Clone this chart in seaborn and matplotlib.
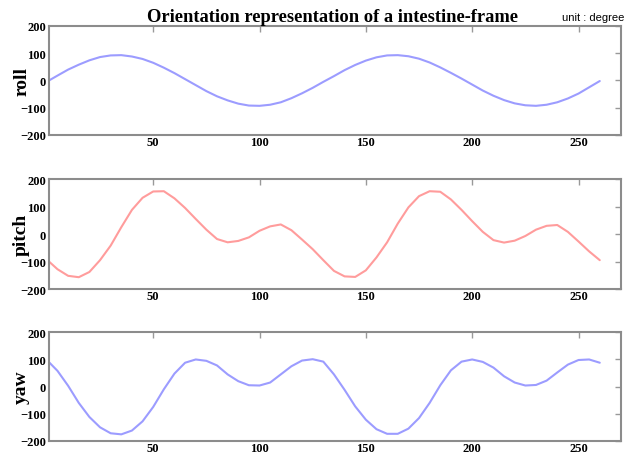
import matplotlib
matplotlib.use("Agg")
import matplotlib.pyplot as plt
import seaborn as sns
import pandas as pd

# frame index (sampled every 5 frames)
frames = [1] + list(range(5, 261, 5))

roll = [0, 18, 40, 58, 74, 86, 92, 93, 88, 79, 65, 47, 27, 5, -17, -39, -58, -73,
        -85, -92, -93, -89, -80, -65, -47, -27, -5, 16, 38, 57, 73, 85, 92, 93, 89,
        80, 66, 48, 28, 7, -15, -37, -56, -72, -84, -91, -93, -89, -80, -66, -48,
        -25, -2]

pitch = [-100, -128, -152, -157, -138, -95, -42, 25, 88, 132, 155, 156, 130, 95,
         55, 16, -18, -30, -25, -12, 12, 28, 35, 14, -20, -55, -95,
         -134, -154, -156, -132, -85, -30, 38, 97, 138, 156, 154, 126, 88, 47, 8,
         -22, -31, -24, -7, 16, 30, 33, 8, -27, -63, -95]

yaw = [90, 58, 3, -60, -112, -150, -172, -176, -162, -128, -75, -10, 48, 88, 100,
       95, 78, 45, 20, 5, 4, 15, 45, 75, 96, 101, 92,
       45, -12, -73, -122, -157, -174, -174, -155, -116, -60, 5, 60, 92, 100, 91,
       70, 38, 15, 4, 6, 22, 52, 81, 98, 100, 88]

names = ["roll", "pitch", "yaw"]
colors = ["#9c9cff", "#ff9c9c", "#9c9cff"]
xticks = [50, 100, 150, 200, 250]
yticks = [-200, -100, 0, 100, 200]

df = pd.DataFrame({"frame": frames, "roll": roll, "pitch": pitch, "yaw": yaw})

sns.set_theme(style="white")
plt.rcParams["font.family"] = ["Liberation Serif", "DejaVu Serif"]
plt.rcParams["text.color"] = "black"
plt.rcParams["axes.labelcolor"] = "black"

fig = plt.figure(figsize=(6.33, 4.56), dpi=100)
boxes = [(0.0774, 0.7018, 0.9037, 0.239),
         (0.0774, 0.364, 0.9037, 0.241),
         (0.0774, 0.031, 0.9037, 0.238)]

for name, color, box in zip(names, colors, boxes):
    ax = fig.add_axes(box)
    sns.lineplot(data=df, x="frame", y=name, color=color, linewidth=1.5, ax=ax)
    ax.set_xlim(1, 270)
    ax.set_ylim(-200, 200)
    ax.set_xticks(xticks)
    ax.set_yticks(yticks)
    ax.set_xlabel("")
    ax.set_ylabel(name, fontsize=14, fontweight="bold")
    ax.yaxis.set_label_coords(-0.033, 0.5)
    ax.tick_params(direction="in", top=True, right=True, length=4, width=1,
                   color="#999999", labelcolor="black", labelsize=9, pad=2)
    ax.tick_params(axis="x", pad=1)
    for lbl in ax.get_xticklabels() + ax.get_yticklabels():
        lbl.set_fontweight("bold")
    for sp in ax.spines.values():
        sp.set_color("#8c8c8c")
        sp.set_linewidth(1.5)

fig.text(0.525, 0.952, "Orientation representation of a intestine-frame",
         ha="center", va="baseline", fontsize=13.3, fontweight="bold")
fig.text(0.987, 0.954, "unit : degree", ha="right", va="baseline", fontsize=8,
         family=["Liberation Sans", "DejaVu Sans"])

fig.savefig("out.png", dpi=100)
